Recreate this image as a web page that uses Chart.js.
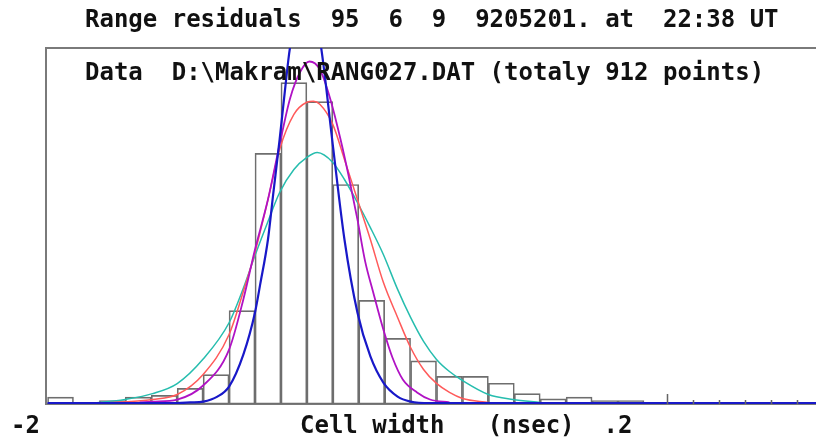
<!DOCTYPE html>
<html>
<head>
<meta charset="utf-8">
<script src="https://cdn.jsdelivr.net/npm/chart.js@4.4.1/dist/chart.umd.min.js"></script>
<style>
  html, body { margin: 0; padding: 0; background: #fff; }
  canvas { display: block; }
</style>
</head>
<body>
<canvas id="hist" width="816" height="438"></canvas>
<script>
// labels
const titleText = 'Range residuals  95  6  9  9205201. at  22:38 UT';
const dataText = 'Data  D:\\Makram\\RANG027.DAT (totaly 912 points)';
const axisMinText = '-2';
const axisText = 'Cell width   (nsec)  .2';

// histogram: bin centres (nsec) and counts per bin
const binCenters = [-1.9, -1.7, -1.5, -1.3, -1.1, -0.9, -0.7, -0.5, -0.3, -0.1, 0.1, 0.3,
  0.5, 0.7, 0.9, 1.1, 1.3, 1.5, 1.7, 1.9, 2.1, 2.3, 2.5];
const counts = [4, 0, 2, 4, 5, 9, 17, 54, 145, 186, 175, 127, 60, 38, 25, 16, 16, 12, 6, 3, 4, 2, 2];

// fitted curves
const tealX = [-1.75, -1.60, -1.39, -1.19, -1.00, -0.80, -0.60, -0.49, -0.40, -0.30, -0.21, -0.10, 0.00,
  0.08, 0.20, 0.29, 0.39, 0.49, 0.59, 0.70, 0.80, 0.90, 1.00, 1.10, 1.20, 1.40, 1.59, 1.80];
const tealY = [0.3, 0.9, 2.8, 6.0, 11.8, 26, 47, 67, 85.9, 105.6, 122.4, 135.7, 142.7,
  145.5, 139.8, 129.9, 116.6, 102.1, 86.5, 66.3, 50.1, 36.2, 25.8, 18.8, 13.6, 5.5, 2.6, 0.9];

const redX = [-1.52, -1.36, -1.19, -1.00, -0.80, -0.60, -0.49, -0.40, -0.30, -0.21, -0.10, 0.00, 0.05,
  0.10, 0.20, 0.29, 0.39, 0.49, 0.59, 0.70, 0.80, 0.90, 1.00, 1.10, 1.20, 1.40];
const redY = [0.9, 1.4, 2.6, 5.5, 17.1, 40.2, 65.1, 87.7, 118.3, 147.3, 167.6, 174.6, 175.2,
  173.4, 161.8, 141.5, 118.3, 95.2, 70.4, 50.1, 32.7, 20.0, 11.9, 6.7, 3.2, 0.9];

const magentaX = [-1.29, -1.19, -1.00, -0.80, -0.60, -0.49, -0.40, -0.30, -0.21, -0.13, -0.05, 0.02,
  0.10, 0.18, 0.26, 0.32, 0.39, 0.45, 0.51, 0.59, 0.66, 0.74, 0.85, 0.95, 1.10];
const magentaY = [0.9, 1.4, 2.6, 10.7, 31.5, 60.5, 89.4, 118.3, 150.2, 176.7, 192.4, 198.2,
  193.6, 176.7, 153.1, 132.8, 106.8, 82.4, 65.1, 43.1, 26.9, 14.2, 6.7, 2.6, 0.9];

const blueX = [-2.00, -1.00, -0.90, -0.80, -0.69, -0.60, -0.49, -0.40, -0.36, -0.30, -0.26, -0.21, -0.17,
  -0.13, -0.07, 0.00, 0.06, 0.11, 0.20, 0.29, 0.39, 0.49, 0.59, 0.70, 0.80, 0.95, 3.93];
const blueY = [0.5, 0.5, 0.9, 1.4, 4.3, 10.1, 28.6, 53.0, 69.2, 95.2, 121.2, 153.1, 180.8,
  206.3, 225.4, 231.7, 225.4, 206.3, 150, 95.2, 53.0, 27.5, 12.4, 4.3, 1.4, 0.5, 0.5];

// small marks on the bottom axis (nsec)
const majorTick = 2.78;
const minorTicks = [2.98, 3.18, 3.38, 3.58, 3.78];

const pts = (xs, ys) => xs.map((x, i) => ({ x: x, y: ys[i] }));

const curve = (data, color, width) => ({
  type: 'line',
  data: data,
  borderColor: color,
  borderWidth: width,
  pointRadius: 0,
  cubicInterpolationMode: 'monotone',
  fill: false
});

const FONT = 'bold 24px "DejaVu Sans Mono"';

const framePlugin = {
  id: 'frame',
  beforeDatasetsDraw(chart) {
    const { ctx, chartArea: a } = chart;
    ctx.save();
    ctx.strokeStyle = '#7a7a7a';
    ctx.lineWidth = 2;
    ctx.beginPath();
    ctx.moveTo(a.right, a.top);
    ctx.lineTo(a.left, a.top);
    ctx.lineTo(a.left, a.bottom);
    ctx.lineTo(a.right, a.bottom);
    ctx.stroke();
    ctx.restore();
  },
  afterDatasetsDraw(chart) {
    const { ctx, chartArea: a, scales: { x } } = chart;
    ctx.save();
    ctx.strokeStyle = '#666';
    ctx.lineWidth = 1.5;
    ctx.beginPath();
    let px = Math.round(x.getPixelForValue(majorTick)) + 0.5;
    ctx.moveTo(px, a.bottom);
    ctx.lineTo(px, a.bottom - 10);
    minorTicks.forEach(t => {
      px = Math.round(x.getPixelForValue(t)) + 0.5;
      ctx.moveTo(px, a.bottom);
      ctx.lineTo(px, a.bottom - 4);
    });
    ctx.stroke();
    ctx.restore();
  },
  afterDraw(chart) {
    const { ctx } = chart;
    ctx.save();
    ctx.fillStyle = '#111';
    ctx.font = FONT;
    ctx.textBaseline = 'alphabetic';
    ctx.textAlign = 'left';
    ctx.fillText(titleText, 85, 27);
    ctx.fillText(dataText, 85, 80);
    ctx.fillText(axisMinText, 11, 433);
    ctx.fillText(axisText, 300, 433);
    ctx.restore();
  }
};

new Chart(document.getElementById('hist'), {
  type: 'bar',
  data: {
    datasets: [
      curve(pts(blueX, blueY), '#1818c8', 2.2),
      curve(pts(magentaX, magentaY), '#b012c4', 1.8),
      curve(pts(redX, redY), '#ff5a5a', 1.5),
      curve(pts(tealX, tealY), '#26bdae', 1.5),
      {
        type: 'bar',
        data: pts(binCenters, counts),
        backgroundColor: 'rgba(255,255,255,0)',
        borderColor: '#6e6e6e',
        borderWidth: 1,
        borderSkipped: false,
        barPercentage: 1,
        categoryPercentage: 1
      }
    ]
  },
  options: {
    responsive: false,
    animation: false,
    layout: { padding: { left: 46, top: 48, right: 0, bottom: 34 } },
    plugins: { legend: { display: false }, title: { display: false }, tooltip: { enabled: false } },
    scales: {
      x: { type: 'linear', min: -2.012, max: 3.927, offset: false, display: false },
      y: { type: 'linear', min: 0, max: 206, display: false }
    }
  },
  plugins: [framePlugin]
});
</script>
</body>
</html>
